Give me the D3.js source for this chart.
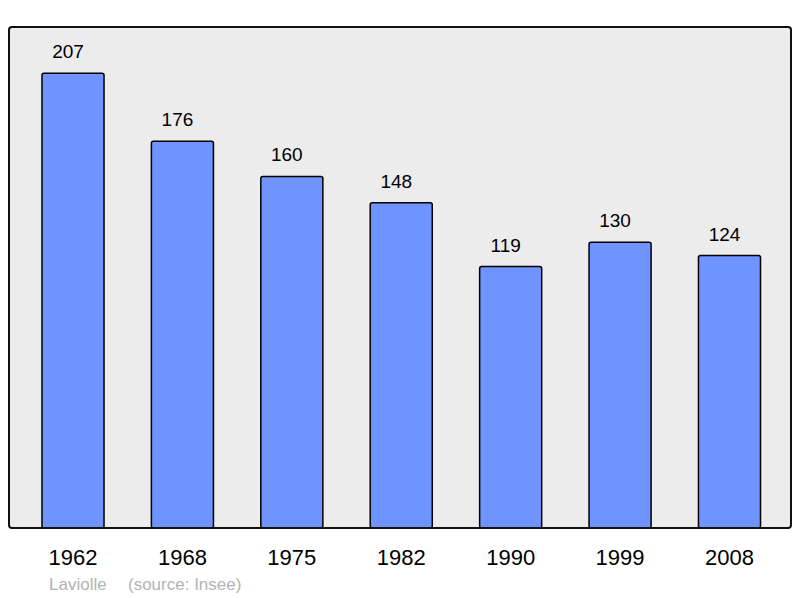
<!DOCTYPE html>
<html><head><meta charset="utf-8">
<script src="https://cdn.jsdelivr.net/npm/d3@7"></script>
<style>body{margin:0;background:#fff}</style>
</head><body>
<svg id="c" width="800" height="598"></svg>
<script>
const years = ["1962","1968","1975","1982","1990","1999","2008"];
const population = [207,176,160,148,119,130,124];
const sourceText = ["Laviolle", "(source: Insee)"];

const svg = d3.select("#c");
const panel = {x0:9, y0:27, x1:791, y1:528};
const font = "'Liberation Sans', Arial, sans-serif";

svg.append("rect").attr("x",panel.x0).attr("y",panel.y0)
  .attr("width",panel.x1-panel.x0).attr("height",panel.y1-panel.y0)
  .attr("rx",3).attr("fill","#ececec");

const x = d3.scaleBand().domain(years).range([18.3,784.2]).paddingInner(0.433).paddingOuter(0.2165);
const y = d3.scaleLinear().domain([0,228]).range([panel.y1, panel.y1-501]);

svg.selectAll("rect.bar").data(population).join("rect").attr("class","bar")
  .attr("x",(d,i)=>x(years[i])).attr("y",d=>y(d))
  .attr("width",x.bandwidth()).attr("height",d=>y(0)-y(d))
  .attr("rx",2).attr("fill","#7094ff").attr("stroke","#000").attr("stroke-width",1.5);

svg.append("rect").attr("x",panel.x0).attr("y",panel.y0)
  .attr("width",panel.x1-panel.x0).attr("height",panel.y1-panel.y0)
  .attr("rx",3).attr("fill","none").attr("stroke","#111").attr("stroke-width",2);

svg.selectAll("text.val").data(population).join("text").attr("class","val")
  .attr("x",(d,i)=>x(years[i])+x.bandwidth()/2-5).attr("y",d=>y(d)-15)
  .attr("text-anchor","middle").attr("font-family",font).attr("font-size",19)
  .attr("fill","#000").text(d=>d);

const xa = svg.append("g").attr("transform",`translate(0,${panel.y1})`)
  .call(d3.axisBottom(x).tickSize(0).tickPadding(0));
xa.select(".domain").remove();
xa.selectAll("text").attr("y",37).attr("dy",null).attr("font-family",font).attr("font-size",22).attr("fill","#000");

svg.append("text").attr("x",49).attr("y",590).attr("font-family",font).attr("font-size",17)
  .attr("fill","#b3b3b3").text(sourceText[0]);
svg.append("text").attr("x",128).attr("y",590).attr("font-family",font).attr("font-size",17)
  .attr("fill","#b3b3b3").text(sourceText[1]);
</script>
</body></html>
